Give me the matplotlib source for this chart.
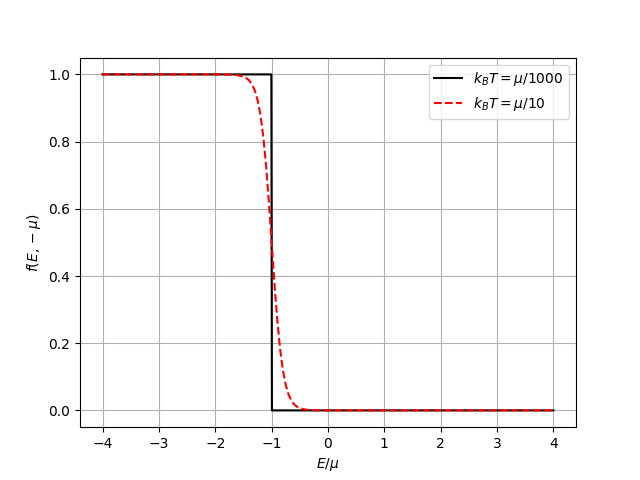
import matplotlib
matplotlib.use("Agg")
from matplotlib import pyplot as plt

# occupation values
E_cold = [-4.0, -1.005, -0.995, 4.0]
f_cold = [1.0, 1.0, 0.0, 0.0]

E_warm = [-4.0, -2.0, -1.8, -1.7, -1.6, -1.5, -1.45, -1.4, -1.35, -1.3, -1.25,
          -1.2, -1.15, -1.1, -1.05, -1.0, -0.95, -0.9, -0.85, -0.8, -0.75,
          -0.7, -0.65, -0.6, -0.55, -0.5, -0.45, -0.4, -0.3, -0.2, 0.0, 4.0]
f_warm = [1.0, 1.0, 0.9997, 0.9991, 0.9975, 0.9933, 0.989, 0.982, 0.9707, 0.9526, 0.9241,
          0.8808, 0.8176, 0.7311, 0.6225, 0.5, 0.3775, 0.2689, 0.1824, 0.1192, 0.0759,
          0.0474, 0.0293, 0.018, 0.011, 0.0067, 0.0041, 0.0025, 0.0009, 0.0003, 0.0, 0.0]

plt.figure(figsize=(6.4, 4.8), dpi=100)
plt.plot(E_cold, f_cold, "k-", label=r"$k_BT=\mu/1000$")
plt.plot(E_warm, f_warm, "r--", label=r"$k_BT=\mu/10$")
plt.xlabel(r"$E/\mu$")
plt.ylabel(r"$f(E,-\mu)$")
plt.grid()
plt.legend()
plt.savefig("out.png")
